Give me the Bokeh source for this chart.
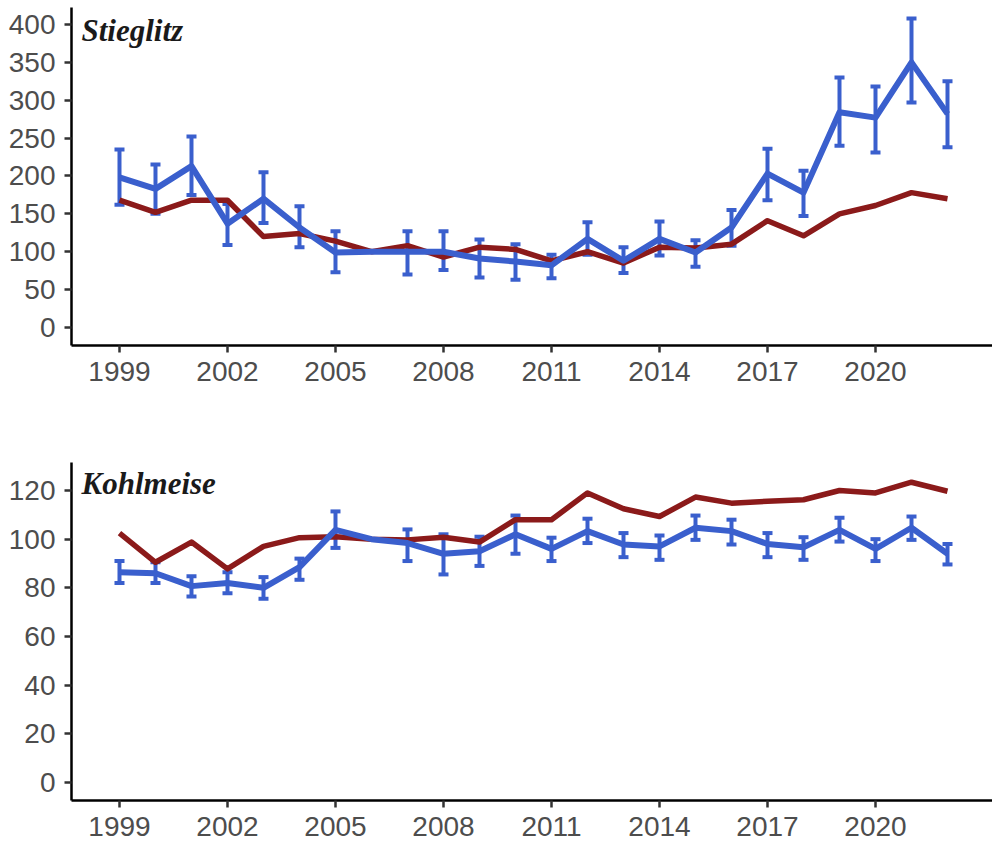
from bokeh.plotting import figure
from bokeh.models import ColumnDataSource, Whisker, TeeHead, FixedTicker, Range1d, Label
from bokeh.layouts import column
from bokeh.embed import file_html
from bokeh.resources import INLINE

years = list(range(1999, 2023))

# Stieglitz
stieglitz_index = [198, 183, 213, 137, 170, 132, 99, 100, 100, 100, 91, 87, 82, 117, 88, 117,
                   99, 132, 203, 178, 284, 277, 350, 282]
stieglitz_upper = [235, 215, 252, 163, 205, 160, 127, None, 127, 127, 116, 110, 96, 139, 106, 140,
                   115, 155, 236, 207, 330, 318, 408, 325]
stieglitz_lower = [162, 150, 175, 109, 138, 106, 73, None, 70, 76, 66, 63, 65, 96, 72, 95,
                   80, 108, 168, 147, 240, 231, 297, 238]
stieglitz_ref = [168, 152, 168, 168, 120, 124, 114, 100, 108, 93, 106, 103, 88, 100, 85, 106,
                 105, 110, 141, 121, 150, 161, 178, 170]

# Kohlmeise
kohlmeise_index = [86.4, 86, 80.7, 82, 80, 88.5, 103.8, 100, 98.4, 94, 95, 102, 96, 103.3, 97.8, 97,
                   104.7, 103.3, 98, 96.7, 103.8, 96, 104.7, 94]
kohlmeise_upper = [91, 90.5, 84.8, 86.4, 84.4, 92, 111.4, None, 104, 102, 101, 109.7, 100.6, 108.4,
                   102.5, 101.5, 109.7, 108, 102.5, 100.8, 108.8, 100, 109.3, 98]
kohlmeise_lower = [82, 82, 76.4, 77.8, 75.5, 83.3, 96.4, None, 91, 85.5, 89, 94, 91, 98.4,
                   92.6, 91.5, 99.7, 97.8, 92.6, 91.5, 99, 91, 99.7, 89.6]
kohlmeise_ref = [102.5, 90.5, 98.8, 87.8, 97, 100.6, 101, 100, 99.7, 100.8, 98.8, 108, 108, 119,
                 112.5, 109.3, 117.3, 114.8, 115.6, 116.2, 120, 119, 123.4, 119.7]

x_ticks = [1999, 2002, 2005, 2008, 2011, 2014, 2017, 2020]
stieglitz_yticks = [0, 50, 100, 150, 200, 250, 300, 350, 400]
kohlmeise_yticks = [0, 20, 40, 60, 80, 100, 120]

BLUE = "#3A5FCD"
RED = "#8B1A1A"
W = 992


def make_panel(title, idx, up, lo, ref, yticks, yr, frame_h, top_b, bot_b, label_y):
    p = figure(width=W, height=frame_h + top_b + bot_b, output_backend="svg",
               toolbar_location=None, x_range=Range1d(1997.667, 2023.25), y_range=Range1d(*yr),
               min_border_left=71, min_border_right=0, min_border_top=top_b,
               min_border_bottom=bot_b)
    p.outline_line_color = None
    p.grid.visible = False
    p.xaxis.ticker = FixedTicker(ticks=x_ticks)
    p.yaxis.ticker = FixedTicker(ticks=yticks)
    for ax in (p.xaxis[0], p.yaxis[0]):
        ax.axis_line_color = "black"
        ax.axis_line_width = 2.5
        ax.major_tick_line_color = "#333333"
        ax.major_tick_line_width = 2.5
        ax.major_tick_out = 7
        ax.major_tick_in = 0
        ax.minor_tick_line_color = None
        ax.major_label_text_font = "Liberation Sans"
        ax.major_label_text_font_size = "28px"
        ax.major_label_text_color = "#4d4d4d"
        ax.major_label_standoff = 9
    p.xaxis.formatter.use_scientific = False

    p.line(years, ref, line_color=RED, line_width=5.5, line_join="round")
    p.line(years, idx, line_color=BLUE, line_width=6, line_join="round")

    ey = [y for y, u in zip(years, up) if u is not None]
    eu = [u for u in up if u is not None]
    el = [l for l in lo if l is not None]
    src = ColumnDataSource(dict(year=ey, upper=eu, lower=el))
    wk = Whisker(base="year", upper="upper", lower="lower", source=src,
                 line_color=BLUE, line_width=4,
                 upper_head=TeeHead(size=10, line_color=BLUE, line_width=4),
                 lower_head=TeeHead(size=10, line_color=BLUE, line_width=4))
    p.add_layout(wk)

    p.add_layout(Label(x=10, y=label_y, x_units="screen", y_units="screen", text=title,
                       text_font="Liberation Serif", text_font_style="bold italic",
                       text_font_size="31px", text_color="#1a1a1a",
                       text_baseline="alphabetic"))
    return p


p1 = make_panel("Stieglitz", stieglitz_index, stieglitz_upper, stieglitz_lower, stieglitz_ref,
                stieglitz_yticks, (-23.8, 422.4), 338, 7, 55, 315)
p2 = make_panel("Kohlmeise", kohlmeise_index, kohlmeise_upper, kohlmeise_lower, kohlmeise_ref,
                kohlmeise_yticks, (-7.4, 131.5), 338, 62, 40, 317)

layout = column(p1, p2, spacing=0)
open("out.html", "w").write(file_html(layout, INLINE))
